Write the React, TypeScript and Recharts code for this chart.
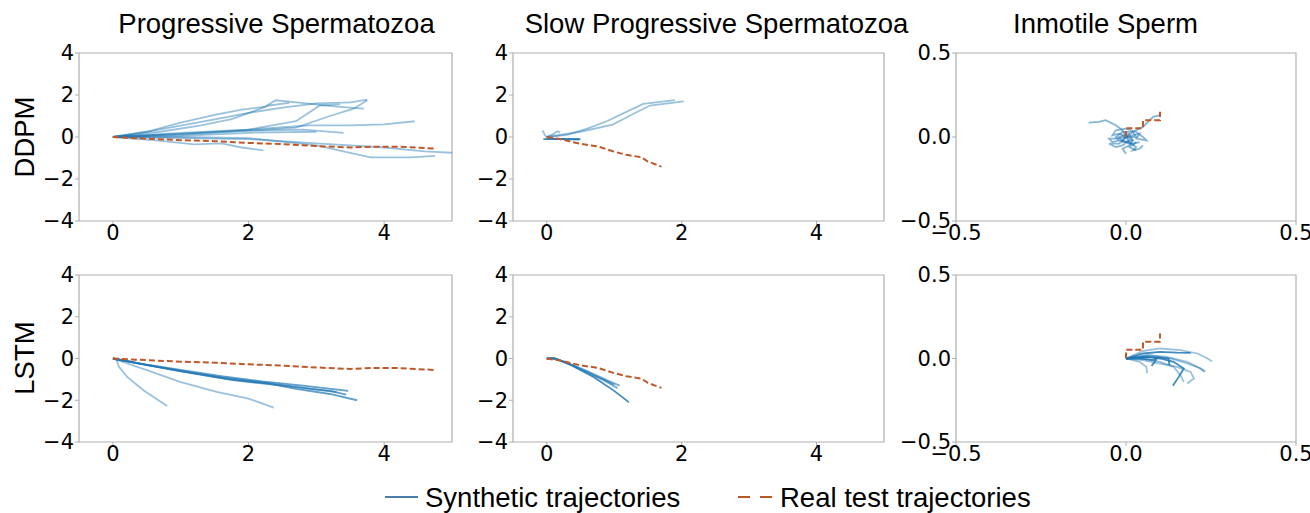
import React from 'react';
import { LineChart, Line, XAxis, YAxis, ReferenceArea } from 'recharts';

type P = [number, number];

// ---------- Column titles / row labels / legend ----------
const colTitles = ['Progressive Spermatozoa', 'Slow Progressive Spermatozoa', 'Inmotile Sperm'];
const rowLabels = ['DDPM', 'LSTM'];
const legendLabels = ['Synthetic trajectories', 'Real test trajectories'];

// ---------- Axis ticks ----------
const motileXTicks = [0, 2, 4];
const motileYTicks = [-4, -2, 0, 2, 4];
const immotileTicks = [-0.5, 0, 0.5];

// ---------- Real test trajectories ----------
const realProgressive: P[] = [[0, 0], [0.5, -0.08], [1, -0.15], [1.5, -0.2], [2, -0.28], [2.5, -0.34], [3, -0.43], [3.5, -0.5], [3.8, -0.46], [4.2, -0.46], [4.75, -0.55]];
const realSlow: P[] = [[0, 0], [0.2, -0.1], [0.49, -0.32], [0.76, -0.45], [0.99, -0.69], [1.18, -0.85], [1.4, -0.96], [1.5, -1.17], [1.7, -1.41]];
const realImmotile: P[] = [[0, 0], [0, 0.052], [0.05, 0.052], [0.05, 0.1], [0.1, 0.1], [0.1, 0.15]];

// ---------- DDPM, progressive ----------
const ddpmProg1: P[] = [[0, 0], [0.5, 0.25], [1.0, 0.68], [1.5, 1.05], [1.9, 1.3], [2.25, 1.45], [2.4, 1.75], [2.85, 1.6], [3.3, 1.45], [3.7, 1.35]];
const ddpmProg2: P[] = [[0, 0], [0.6, 0.3], [1.1, 0.6], [1.6, 0.9], [2.0, 1.15], [2.5, 1.4], [3.0, 1.6], [3.5, 1.65], [3.75, 1.78]];
const ddpmProg3: P[] = [[0, 0], [0.7, 0.25], [1.3, 0.55], [1.75, 0.85], [2.05, 1.2], [2.3, 1.5], [2.6, 1.62]];
const ddpmProg4: P[] = [[0, 0], [1, 0.2], [2, 0.35], [2.7, 0.75], [3.05, 1.5], [3.35, 1.55]];
const ddpmProg5: P[] = [[0, 0], [1, 0.15], [2, 0.3], [2.7, 0.45], [3.2, 1.0], [3.55, 1.35], [3.75, 1.75]];
const ddpmProg6: P[] = [[0, 0], [1, 0.15], [2, 0.35], [2.9, 0.55], [3.5, 0.55], [4.0, 0.6], [4.45, 0.75]];
const ddpmProg7: P[] = [[0, 0], [1, 0.1], [2, 0.3], [2.8, 0.35], [3.4, 0.2]];
const ddpmProg8: P[] = [[0, 0], [1, 0.0], [2, -0.05], [3, -0.4], [3.8, -0.97], [4.4, -0.97], [4.75, -0.9]];
const ddpmProg9: P[] = [[0, 0], [1, -0.05], [2, -0.1], [3, -0.3], [4, -0.5], [4.6, -0.68], [5.0, -0.75]];
const ddpmProg10: P[] = [[0, 0], [0.6, -0.15], [1.2, -0.35], [1.6, -0.3], [1.9, -0.5], [2.22, -0.64]];
const ddpmProg11: P[] = [[0, 0], [1.0, 0.05], [2, 0.2], [3, 0.25]];

// ---------- DDPM, slow progressive ----------
const ddpmSlow1: P[] = [[0, 0], [0.3, 0.1], [0.6, 0.4], [0.89, 0.75], [1.15, 1.15], [1.43, 1.58], [1.9, 1.76]];
const ddpmSlow2: P[] = [[0, 0], [0.5, 0.25], [0.98, 0.59], [1.25, 1.05], [1.53, 1.5], [2.03, 1.7]];
const ddpmSlow3: P[] = [[-0.05, -0.1], [0.2, -0.1], [0.5, -0.1]];
const ddpmSlow4: P[] = [[0, -0.08], [0.3, -0.1], [0.48, -0.12]];
const ddpmSlow5: P[] = [[-0.06, 0.32], [-0.03, 0.1], [0, 0], [0.1, -0.05]];
const ddpmSlow6: P[] = [[0, 0], [0.1, 0.15], [0.16, 0.27], [0.2, 0.22]];

// ---------- DDPM, immotile ----------
const ddpmImm1: P[] = [[0, 0], [-0.01, 0.04], [-0.03, 0.07], [-0.06, 0.1], [-0.08, 0.09], [-0.11, 0.085]];
const ddpmImm2: P[] = [[0, 0], [0.02, 0.03], [0.05, 0.06], [0.07, 0.1], [0.08, 0.12], [0.1, 0.13]];
const ddpmImm3: P[] = [[0, 0], [0.02, -0.02], [0.01, -0.05], [-0.01, -0.07], [0.0, -0.1]];
const ddpmImm4: P[] = [[0, 0], [-0.03, -0.01], [-0.05, -0.01], [-0.04, -0.03], [-0.02, -0.02], [0.02, -0.04], [0.04, -0.03]];
const ddpmImm5: P[] = [[0, 0], [-0.02, 0.02], [-0.04, 0.01], [-0.03, 0.04], [0.0, 0.05], [0.03, 0.03], [0.05, 0.0]];
const ddpmImm6: P[] = [[0, 0], [0.01, -0.03], [0.03, -0.06], [0.02, -0.08], [0.04, -0.07], [0.05, -0.05]];
const ddpmImm7: P[] = [[0, 0], [-0.02, -0.04], [-0.05, -0.04], [-0.03, -0.06], [-0.01, -0.05], [0.01, -0.02]];
const ddpmImm8: P[] = [[0, 0], [0.02, 0.01], [0.04, 0.02], [0.03, -0.01], [0.06, -0.02], [0.05, 0.0]];
const ddpmImm9: P[] = [[0, 0], [0.01, 0.02], [-0.02, 0.0], [-0.01, -0.03], [0.02, -0.02], [0.01, 0.01]];
const ddpmImm10: P[] = [[0, 0], [-0.01, -0.02], [0.02, -0.05], [0.03, -0.03], [0.01, -0.06], [0.03, -0.08]];
const ddpmImm11: P[] = [[0, 0], [0.03, 0.0], [0.02, 0.03], [-0.01, 0.03], [-0.03, 0.0], [-0.02, -0.02]];

// ---------- LSTM, progressive ----------
const lstmProg1: P[] = [[0, 0], [0.05, -0.05], [0.09, -0.4], [0.21, -0.88], [0.45, -1.52], [0.8, -2.27]];
const lstmProg2: P[] = [[0, 0], [0.5, -0.56], [0.99, -1.12], [1.53, -1.6], [2.0, -1.92], [2.37, -2.35]];
const lstmProg3: P[] = [[0, 0], [0.5, -0.3], [1.0, -0.55], [1.6, -0.85], [2.2, -1.1], [2.8, -1.3], [3.47, -1.55]];
const lstmProg4: P[] = [[0, 0], [0.5, -0.3], [1.0, -0.6], [1.6, -0.9], [2.2, -1.15], [2.8, -1.4], [3.2, -1.55], [3.44, -1.73]];
const lstmProg5: P[] = [[0, 0], [0.5, -0.32], [1.0, -0.62], [1.7, -1.0], [2.3, -1.2], [2.7, -1.45], [3.2, -1.7], [3.6, -2.0]];
const lstmProg6: P[] = [[0, 0], [0.5, -0.3], [1.1, -0.65], [1.8, -1.05], [2.5, -1.3], [3.0, -1.5], [3.3, -1.6]];

// ---------- LSTM, slow progressive ----------
const lstmSlow1: P[] = [[0, 0], [0.1, 0.02], [0.3, -0.2], [0.6, -0.6], [0.9, -1.05], [1.08, -1.3]];
const lstmSlow2: P[] = [[0, 0], [0.1, 0.02], [0.3, -0.22], [0.6, -0.65], [0.85, -1.05], [1.05, -1.42]];
const lstmSlow3: P[] = [[0, 0], [0.12, 0.0], [0.35, -0.3], [0.7, -0.9], [1.0, -1.55], [1.22, -2.1]];
const lstmSlow4: P[] = [[0, 0], [0.15, -0.02], [0.4, -0.35], [0.7, -0.8], [1.0, -1.25]];

// ---------- LSTM, immotile ----------
const lstmImm1: P[] = [[0, 0], [0.05, 0.03], [0.1, 0.04], [0.15, 0.035], [0.19, 0.034]];
const lstmImm2: P[] = [[0, 0], [0.06, 0.01], [0.1, 0.0], [0.14, -0.02], [0.17, -0.06], [0.155, -0.11], [0.138, -0.163]];
const lstmImm3: P[] = [[0, 0], [0.05, 0.045], [0.1, 0.06], [0.16, 0.05], [0.21, 0.03], [0.24, 0.0], [0.253, -0.018]];
const lstmImm4: P[] = [[0, 0], [0.06, 0.02], [0.12, 0.01], [0.18, -0.02], [0.21, -0.05], [0.234, -0.078]];
const lstmImm5: P[] = [[0, 0], [0.05, -0.01], [0.1, -0.03], [0.15, -0.05], [0.19, -0.08], [0.2, -0.12], [0.18, -0.15]];
const lstmImm6: P[] = [[0, 0], [0.04, 0.0], [0.08, -0.01], [0.09, 0.0], [0.085, -0.02], [0.075, -0.044]];
const lstmImm7: P[] = [[0, 0], [0.04, -0.02], [0.06, -0.05], [0.062, -0.088]];
const lstmImm8: P[] = [[0, 0], [0.06, 0.01], [0.1, 0.005], [0.125, 0.0], [0.128, -0.04]];
const lstmImm9: P[] = [[0, 0], [0.07, 0.02], [0.13, 0.0], [0.18, -0.03], [0.22, -0.06], [0.23, -0.08]];
const lstmImm10: P[] = [[0, 0], [0.05, 0.0], [0.1, -0.02], [0.14, -0.05], [0.16, -0.1], [0.17, -0.14]];

// ---------- styling ----------
const BLUE = '#1f77b4';
const ORANGE = '#c0582a';
const GRAY = '#b0b0b0';
const TITLE_FONT = '"Liberation Sans", Arial, sans-serif';
const TICK_FONT = '"DejaVu Sans", sans-serif';

const toPts = (a: P[]) => a.map(([x, y]) => ({ x, y }));
const fmtInt = (v: number) => (v < 0 ? '\u2212' + Math.abs(v) : String(v));
const fmtDec = (v: number) => (v < 0 ? '\u2212' : '') + Math.abs(v).toFixed(1);

type Synth = { pts: P[]; op: number };

type PanelProps = {
  left: number; top: number; width: number; height: number;
  yw: number; mr: number; mt: number; xh: number;
  xd: [number, number]; yd: [number, number];
  xt: number[]; yt: number[]; fmt: (v: number) => string;
  synth: Synth[]; real: P[];
};

function Panel(p: PanelProps) {
  const tick = { fontSize: 21, fill: '#000', fontFamily: TICK_FONT };
  return (
    <div style={{ position: 'absolute', left: p.left, top: p.top }}>
      <LineChart width={p.width} height={p.height} margin={{ top: p.mt, right: p.mr, left: 0, bottom: 0 }}>
        <XAxis type="number" dataKey="x" domain={p.xd} ticks={p.xt} allowDataOverflow interval={0}
          height={p.xh} tickFormatter={p.fmt} tick={tick} tickLine={{ stroke: GRAY }} axisLine={false}
          tickSize={4} tickMargin={0} />
        <YAxis type="number" dataKey="y" domain={p.yd} ticks={p.yt} allowDataOverflow interval={0}
          width={p.yw} tickFormatter={p.fmt} tick={tick} tickLine={{ stroke: GRAY }} axisLine={false}
          tickSize={4} tickMargin={1} />
        <ReferenceArea x1={p.xd[0]} x2={p.xd[1]} y1={p.yd[0]} y2={p.yd[1]} fill="none" fillOpacity={0}
          stroke={GRAY} strokeWidth={1.2} ifOverflow="visible" />
        {p.synth.map((s, i) => (
          <Line key={'s' + i} data={toPts(s.pts)} dataKey="y" type="linear" stroke={BLUE}
            strokeOpacity={s.op} strokeWidth={1.8} dot={false} isAnimationActive={false} />
        ))}
        <Line key="real" data={toPts(p.real)} dataKey="y" type="linear" stroke={ORANGE}
          strokeWidth={2} strokeDasharray="6 3" dot={false} isAnimationActive={false} />
      </LineChart>
    </div>
  );
}

const L = 0.45;
const D = 0.85;

export default function App() {
  const cols = [
    { left: 0, width: 460, yw: 79, mr: 8 },
    { left: 460, width: 430, yw: 53, mr: 6 },
    { left: 890, width: 420, yw: 66, mr: 14 },
  ];
  const rows = [
    { top: 40, height: 210, mt: 13, xh: 29 },
    { top: 262, height: 210, mt: 13, xh: 30 },
  ];
  const motile = { xd: [-0.5, 5] as [number, number], yd: [-4, 4] as [number, number], xt: motileXTicks, yt: motileYTicks, fmt: fmtInt };
  const immotile = { xd: [-0.5, 0.5] as [number, number], yd: [-0.5, 0.5] as [number, number], xt: immotileTicks, yt: immotileTicks, fmt: fmtDec };

  const panels = [
    { r: 0, c: 0, ax: motile, real: realProgressive, synth: [ddpmProg1, ddpmProg2, ddpmProg3, ddpmProg4, ddpmProg5, ddpmProg6, ddpmProg7, ddpmProg8, ddpmProg9, ddpmProg10, ddpmProg11].map((pts) => ({ pts, op: L })) },
    { r: 0, c: 1, ax: motile, real: realSlow, synth: [
      { pts: ddpmSlow1, op: L }, { pts: ddpmSlow2, op: L }, { pts: ddpmSlow3, op: D }, { pts: ddpmSlow4, op: D }, { pts: ddpmSlow5, op: L }, { pts: ddpmSlow6, op: L }] },
    { r: 0, c: 2, ax: immotile, real: realImmotile, synth: [ddpmImm1, ddpmImm2, ddpmImm3, ddpmImm4, ddpmImm5, ddpmImm6, ddpmImm7, ddpmImm8, ddpmImm9, ddpmImm10, ddpmImm11].map((pts) => ({ pts, op: 0.55 })) },
    { r: 1, c: 0, ax: motile, real: realProgressive, synth: [
      { pts: lstmProg1, op: L }, { pts: lstmProg2, op: L }, { pts: lstmProg3, op: 0.7 }, { pts: lstmProg4, op: 0.7 }, { pts: lstmProg5, op: 0.7 }, { pts: lstmProg6, op: 0.6 }] },
    { r: 1, c: 1, ax: motile, real: realSlow, synth: [
      { pts: lstmSlow1, op: 0.6 }, { pts: lstmSlow2, op: 0.6 }, { pts: lstmSlow3, op: D }, { pts: lstmSlow4, op: 0.6 }] },
    { r: 1, c: 2, ax: immotile, real: realImmotile, synth: [
      { pts: lstmImm1, op: D }, { pts: lstmImm2, op: D }, { pts: lstmImm3, op: L }, { pts: lstmImm4, op: L }, { pts: lstmImm5, op: L },
      { pts: lstmImm6, op: D }, { pts: lstmImm7, op: L }, { pts: lstmImm8, op: D }, { pts: lstmImm9, op: L }, { pts: lstmImm10, op: L }] },
  ];

  const titleX = [276.5, 716.5, 1105.5];
  const rowY = [137, 358];

  return (
    <div style={{ position: 'absolute', left: 0, top: 0, width: 1310, height: 513, background: '#fff', overflow: 'hidden' }}>
      {panels.map((pn, i) => {
        const c = cols[pn.c];
        const r = rows[pn.r];
        return (
          <Panel key={i} left={c.left} top={r.top} width={c.width} height={r.height} yw={c.yw} mr={c.mr}
            mt={r.mt} xh={r.xh} {...pn.ax} synth={pn.synth} real={pn.real} />
        );
      })}
      <svg width={1310} height={513} style={{ position: 'absolute', left: 0, top: 0, pointerEvents: 'none' }}>
        {colTitles.map((t, i) => (
          <text key={t} x={titleX[i]} y={33} textAnchor="middle" fontFamily={TITLE_FONT} fontSize={27.5} fill="#000">{t}</text>
        ))}
        {rowLabels.map((t, i) => (
          <text key={t} x={0} y={0} transform={`translate(34, ${rowY[i]}) rotate(-90)`} textAnchor="middle"
            fontFamily={TITLE_FONT} fontSize={27.5} fill="#000">{t}</text>
        ))}
        <line x1={385} x2={418} y1={497} y2={497} stroke="#4a7ea8" strokeWidth={2} />
        <text x={425} y={507} fontFamily={TITLE_FONT} fontSize={27.5} fill="#000">{legendLabels[0]}</text>
        <line x1={738} x2={772} y1={497} y2={497} stroke="#b8572a" strokeWidth={2} strokeDasharray="12 10" />
        <text x={780} y={507} fontFamily={TITLE_FONT} fontSize={27.5} fill="#000">{legendLabels[1]}</text>
      </svg>
    </div>
  );
}
